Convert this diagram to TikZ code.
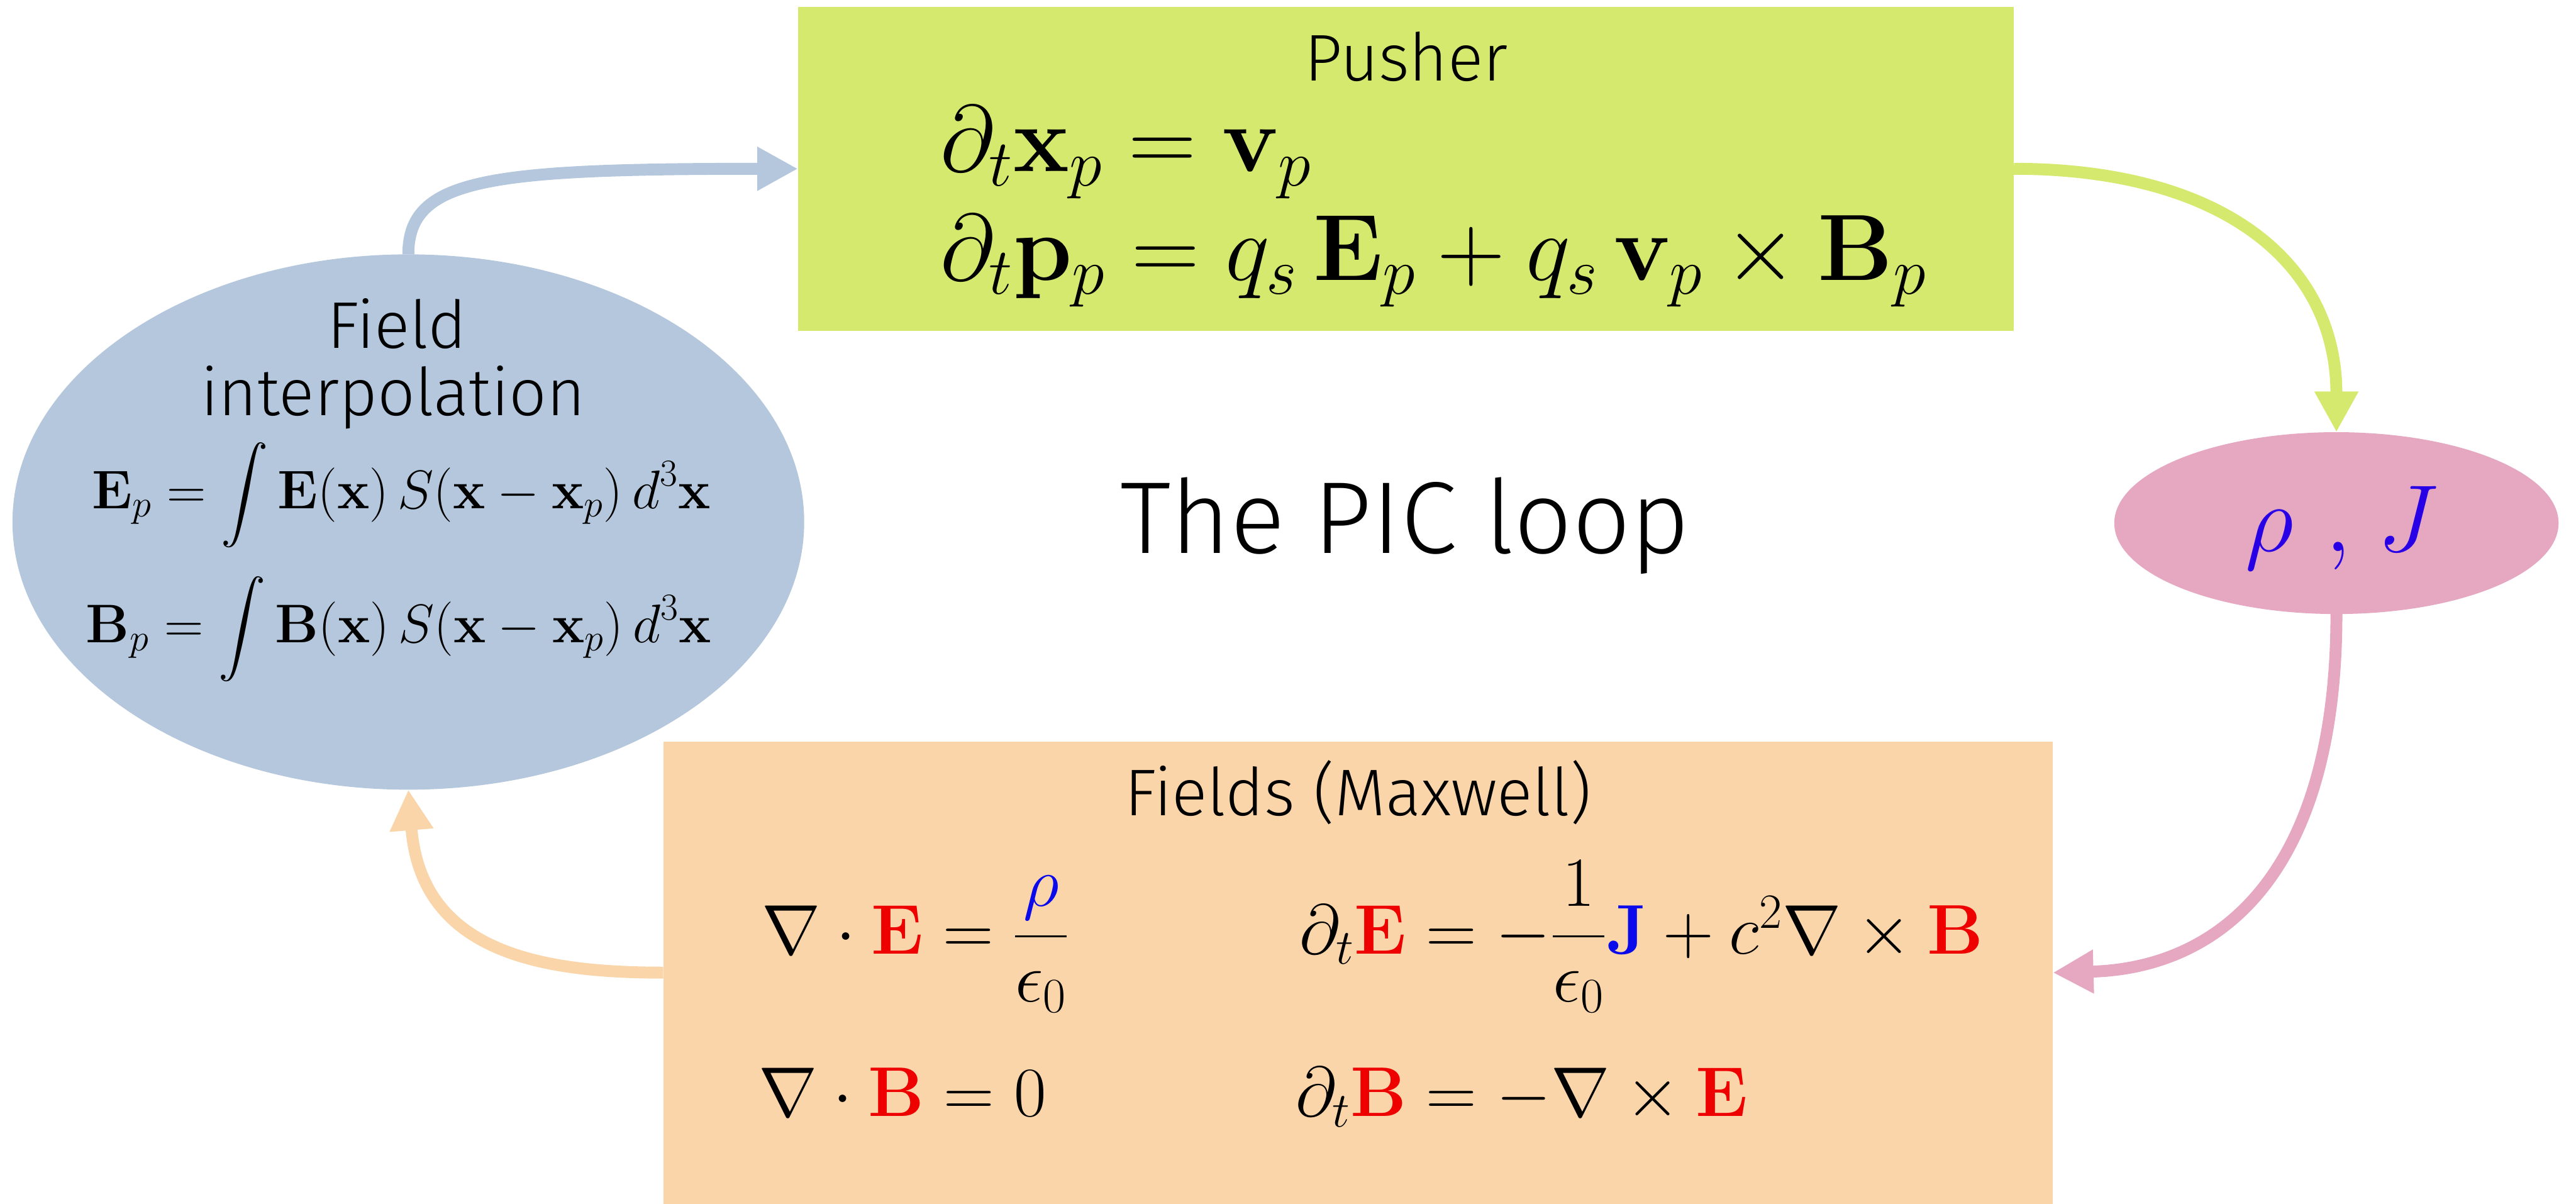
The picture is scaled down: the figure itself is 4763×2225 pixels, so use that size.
\RequirePackage{fix-cm}
\documentclass[tikz,border=0pt]{standalone}
\usepackage{amsmath,bm}
\usepackage[no-math]{fontspec}
\newfontfamily\lab{Fira Sans Light}
\usetikzlibrary{arrows.meta,shapes.geometric}
\definecolor{cgreen}{RGB}{213,233,110}
\definecolor{cblue}{RGB}{180,199,220}
\definecolor{cpink}{RGB}{230,167,193}
\definecolor{corange}{RGB}{250,213,170}
\definecolor{mred}{RGB}{238,0,0}
\definecolor{mblue}{RGB}{10,10,235}
\definecolor{jblue}{RGB}{40,0,230}
\begin{document}
\begin{tikzpicture}[x=0.01cm,y=-0.01cm,
  conn/.style={line width=0.22cm,-{Triangle[length=0.75cm,width=0.76cm]}},
  shapebox/.style={inner sep=0,outer sep=0,draw=none},
  lbl/.style={font={\lab\fontsize{34.7pt}{36pt}\selectfont},inner sep=0,anchor=base},
  ttl/.style={font={\lab\fontsize{53.7pt}{60pt}\selectfont},inner sep=0,anchor=base},
  pm/.style={font={\fontsize{49.5pt}{58pt}\selectfont},inner sep=0,anchor=base west},
  im/.style={font={\fontsize{28.6pt}{34pt}\selectfont},inner sep=0,anchor=base},
  mm/.style={font={\fontsize{37pt}{44pt}\selectfont},inner sep=0,anchor=base west},
  rj/.style={font={\fontsize{50pt}{58pt}\selectfont},inner sep=0,anchor=base}]
\useasboundingbox (0,0) rectangle (4763,2225);
% shapes
\node[shapebox,fill=cgreen,minimum width=22.47cm,minimum height=5.98cm] (pusher) at (2599.5,312) {};
\node[shapebox,ellipse,fill=cblue,minimum width=14.63cm,minimum height=9.89cm] (interp) at (755,965) {};
\node[shapebox,ellipse,fill=cpink,minimum width=8.21cm,minimum height=3.36cm] (rhoj) at (4320,967) {};
\node[shapebox,fill=corange,minimum width=25.68cm,minimum height=8.54cm] (maxwell) at (2511,1798) {};
% connectors
\draw[conn,cblue] (interp.north) .. controls +(0,-140) and +(-576,0) .. (pusher.west);
\draw[conn,cgreen] (pusher.east) .. controls +(377,0) and +(0,-319) .. (rhoj.north);
\draw[conn,cpink] (rhoj.south) .. controls +(0,485) and +(305,-8) .. (maxwell.east);
\draw[conn,corange] (maxwell.west) .. controls +(-227,0) and +(24,300) .. (interp.south);
% labels
\node[lbl] (tpusher) at (2600,149) {Pusher};
\node[lbl] (tfield) at (734,644) {Field};
\node[lbl] (tinterp) at (727,768) {interpolation};
\node[lbl] (tmax) at (2511,1508) {Fields (Maxwell)};
\node[ttl] (tloop) at (2598,1023) {The PIC loop};
% pusher equations
\node[pm] (eqx) at (1738,317) {$\partial_t \mathbf{x}_p = \mathbf{v}_p$};
\node[pm] (eqp) at (1738,518) {$\partial_t \mathbf{p}_p = q_s\, \mathbf{E}_p + q_s\, \mathbf{v}_p \times \mathbf{B}_p$};
% interpolation equations
\node[im] (ie) at (742,940) {$\displaystyle \mathbf{E}_p = \int \mathbf{E}(\mathbf{x})\, S(\mathbf{x}-\mathbf{x}_p)\, d^3\mathbf{x}$};
\node[im] (ib) at (737,1188) {$\displaystyle \mathbf{B}_p = \int \mathbf{B}(\mathbf{x})\, S(\mathbf{x}-\mathbf{x}_p)\, d^3\mathbf{x}$};
% rho, J
\node[rj] (trj) at (4330,1019) {$\color{jblue}\rho\mkern6mu{,}\mkern5mu J$};
% Maxwell equations
\node[mm] (m1) at (1408,1763) {$\nabla\cdot\textcolor{mred}{\mathbf{E}} = \dfrac{\textcolor{mblue}{\rho}}{\epsilon_0}$};
\node[mm] (m2) at (1402,2064) {$\nabla\cdot\textcolor{mred}{\mathbf{B}} = 0$};
\node[mm] (m3) at (2402,1763) {$\partial_t\textcolor{mred}{\mathbf{E}} = -\dfrac{1}{\epsilon_0}\textcolor{mblue}{\mathbf{J}} + c^2\nabla\times\textcolor{mred}{\mathbf{B}}$};
\node[mm] (m4) at (2395,2064) {$\partial_t\textcolor{mred}{\mathbf{B}} = -\nabla\times\textcolor{mred}{\mathbf{E}}$};
\end{tikzpicture}
\end{document}
